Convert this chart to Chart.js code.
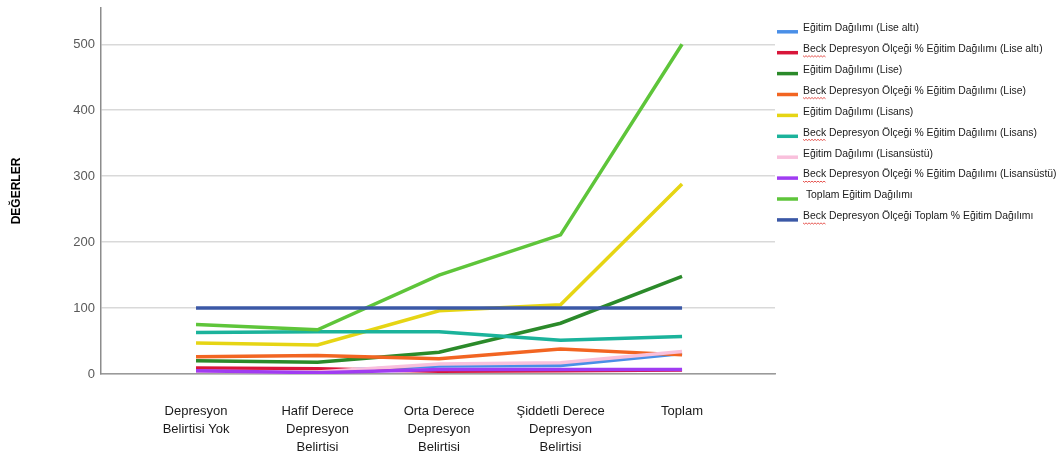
<!DOCTYPE html>
<html lang="tr">
<head>
<meta charset="utf-8">
<title>Beck Depresyon Ölçeği – Eğitim Dağılımı</title>
<script src="https://cdn.jsdelivr.net/npm/chart.js@4.4.1/dist/chart.umd.min.js"></script>
<style>
  html, body { margin: 0; padding: 0; background: #fff; }
  canvas { display: block; }
</style>
</head>
<body>
<canvas id="egitimChart" width="1063" height="457"></canvas>
<script>
/****************Data****************/
const categories = [
  "Depresyon\nBelirtisi Yok",
  "Hafif Derece\nDepresyon\nBelirtisi",
  "Orta Derece\nDepresyon\nBelirtisi",
  "Şiddetli Derece\nDepresyon\nBelirtisi",
  "Toplam",
];
const yTicks = [0, 100, 200, 300, 400, 500];

const seriesLabels = [
  "Eğitim Dağılımı (Lise altı)",
  "Beck Depresyon Ölçeği % Eğitim Dağılımı (Lise altı)",
  "Eğitim Dağılımı (Lise)",
  "Beck Depresyon Ölçeği % Eğitim Dağılımı (Lise)",
  "Eğitim Dağılımı (Lisans)",
  "Beck Depresyon Ölçeği % Eğitim Dağılımı (Lisans)",
  "Eğitim Dağılımı (Lisansüstü)",
  "Beck Depresyon Ölçeği % Eğitim Dağılımı (Lisansüstü)",
  " Toplam Eğitim Dağılımı",
  "Beck Depresyon Ölçeği Toplam % Eğitim Dağılımı",
];

const liseAlti = [5, 4, 12, 13, 31];
const beckLiseAlti = [9, 8, 4, 5, 6];
const lise = [20, 18, 33, 77, 148];
const beckLise = [26, 28, 23, 38, 29];
const lisans = [47, 44, 96, 105, 288];
const beckLisans = [63, 64, 64, 51, 57];
const lisansustu = [4, 3, 15, 17, 34];
const beckLisansustu = [5, 2, 7, 7, 7];
const toplamEgitim = [75, 67, 150, 211, 500];
const beckToplam = [100, 100, 100, 100, 100];

const seriesValues = [
  liseAlti, beckLiseAlti, lise, beckLise, lisans,
  beckLisans, lisansustu, beckLisansustu, toplamEgitim, beckToplam,
];
const seriesColors = [
  "#4a8fe7", "#d8163a", "#2b8a2a", "#f26522", "#e6d514",
  "#1bb39b", "#f9c0dc", "#a03cf2", "#5ec53a", "#3b58a6",
];

/****************Side legend (line swatch + label)****************/
const sideLegend = {
  id: "sideLegend",
  afterDraw(chart) {
    const { ctx, chartArea } = chart;
    const x0 = chartArea.right + 2;
    ctx.save();
    ctx.font = "10.4px 'Liberation Sans', Arial, sans-serif";
    ctx.textBaseline = "middle";
    ctx.textAlign = "left";
    chart.data.datasets.forEach((ds, i) => {
      const y = 31.8 + i * 20.9;
      ctx.strokeStyle = ds.borderColor;
      ctx.lineWidth = 3.5;
      ctx.beginPath();
      ctx.moveTo(x0, y);
      ctx.lineTo(x0 + 21, y);
      ctx.stroke();

      const tx = x0 + 26;
      const ty = y - 3.5;
      ctx.fillStyle = "#202020";
      ctx.fillText(ds.label, tx, ty);

      // spell-check style wavy underline under "Beck"
      if (ds.label.startsWith("Beck")) {
        const w = ctx.measureText("Beck").width;
        ctx.strokeStyle = "#e0302a";
        ctx.lineWidth = 0.8;
        ctx.beginPath();
        for (let k = 0; k <= w; k += 1.5) {
          const yy = ty + 6.5 + ((k / 1.5) % 2 === 0 ? 0 : 1.2);
          if (k === 0) ctx.moveTo(tx + k, yy);
          else ctx.lineTo(tx + k, yy);
        }
        ctx.stroke();
      }
    });
    ctx.restore();
  },
};

/****************Line Chart Initialization****************/
const datasets = seriesLabels.map((label, i) => ({
  label: label,
  data: seriesValues[i].map((v, idx) => ({ x: idx, y: v })),
  borderColor: seriesColors[i],
  backgroundColor: seriesColors[i],
  borderWidth: 3.5,
  pointRadius: 0,
  tension: 0,
  fill: false,
  order: seriesLabels.length - i,
}));

const ctx = document.getElementById("egitimChart").getContext("2d");
new Chart(ctx, {
  type: "line",
  data: { datasets: datasets },
  plugins: [sideLegend],
  options: {
    responsive: false,
    animation: false,
    layout: {
      padding: { top: 8, right: 288, bottom: 0, left: 0 },
    },
    plugins: {
      legend: { display: false },
      tooltip: { enabled: false },
    },
    scales: {
      x: {
        type: "linear",
        min: -0.782,
        max: 4.765,
        afterBuildTicks: (axis) => {
          axis.ticks = categories.map((c, i) => ({ value: i }));
        },
        afterFit: (scale) => {
          scale.height = 83;
          scale.paddingLeft = 0;
          scale.paddingRight = 0;
        },
        grid: { display: false, drawTicks: false },
        border: { color: "#9a9a9a", width: 1.5 },
        ticks: {
          autoSkip: false,
          maxRotation: 0,
          padding: 28,
          color: "#1a1a1a",
          font: { family: "'Liberation Sans', Arial, sans-serif", size: 13, lineHeight: 1.4 },
          callback: (value) => (categories[value] || "").split("\n"),
        },
      },
      y: {
        min: 0,
        max: 555,
        afterBuildTicks: (axis) => {
          axis.ticks = yTicks.map((v) => ({ value: v }));
        },
        afterFit: (scale) => {
          scale.width = 101;
          scale.paddingTop = 0;
          scale.paddingBottom = 0;
        },
        grid: { color: "#d9d9d9", lineWidth: 1.5, drawTicks: false },
        border: { color: "#8c8c8c", width: 1.5 },
        ticks: {
          padding: 6,
          color: "#595959",
          font: { family: "'Liberation Sans', Arial, sans-serif", size: 13 },
        },
        title: {
          display: true,
          text: "DEĞERLER",
          color: "#000",
          padding: { top: 9, bottom: 0 },
          font: { family: "'Liberation Sans', Arial, sans-serif", size: 12, weight: "bold" },
        },
      },
    },
  },
});
</script>
</body>
</html>
